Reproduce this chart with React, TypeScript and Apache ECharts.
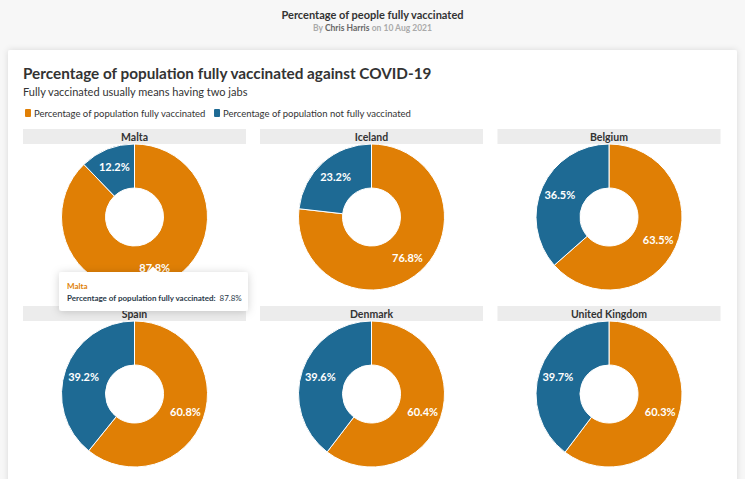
import React, { useEffect, useRef } from "react";
import * as echarts from "echarts";

const countries = ["Malta", "Iceland", "Belgium", "Spain", "Denmark", "United Kingdom"];
const vaccinated = [87.8, 76.8, 63.5, 60.8, 60.4, 60.3];
const notVaccinated = [12.2, 23.2, 36.5, 39.2, 39.6, 39.7];
const seriesNames = [
  "Percentage of population fully vaccinated",
  "Percentage of population not fully vaccinated",
];

const ORANGE = "#e07f05";
const BLUE = "#1e6a94";
const FONT = "Lato, 'Noto Sans', sans-serif";

const colCenters = [134.5, 371.5, 609];
const rowBarTop = [129, 306];
const BAR_W = 223;
const BAR_H = 15;
const R_OUT = 73;
const R_IN = 29;

export default function App() {
  const ref = useRef<HTMLDivElement>(null);
  useEffect(() => {
    const chart = echarts.init(ref.current!, undefined, { renderer: "svg" });
    const graphics: any[] = [];
    // card
    graphics.push({
      type: "rect",
      shape: { x: 8, y: 50, width: 729, height: 460, r: 2 },
      style: { fill: "#fff", shadowBlur: 6, shadowColor: "rgba(0,0,0,0.12)" },
      z: 0,
    });
    const series: any[] = [];
    countries.forEach((c, i) => {
      const col = i % 3;
      const row = Math.floor(i / 3);
      const cx = colCenters[col];
      const top = rowBarTop[row];
      graphics.push({
        type: "rect",
        shape: { x: cx - BAR_W / 2, y: top, width: BAR_W, height: BAR_H },
        style: { fill: "#ececec" },
        z: 1,
      });
      graphics.push({
        type: "text",
        x: cx,
        y: top + BAR_H / 2 + 0.5,
        style: {
          text: c,
          fill: "#333",
          font: `bold 10.5px ${FONT}`,
          textAlign: "center",
          textVerticalAlign: "middle",
        },
        z: 2,
      });
      series.push({
        type: "pie",
        name: c,
        center: [cx, top + BAR_H + R_OUT],
        radius: [R_IN, R_OUT],
        startAngle: 90,
        clockwise: true,
        silent: true,
        itemStyle: { borderColor: "#fff", borderWidth: 1 },
        label: {
          show: true,
          position: "inside",
          formatter: "{c}%",
          color: "#fff",
          fontSize: 11,
          fontWeight: "bold",
          fontFamily: FONT,
        },
        labelLine: { show: false },
        emphasis: { disabled: true },
        data: [
          { name: seriesNames[0], value: vaccinated[i], itemStyle: { color: ORANGE } },
          { name: seriesNames[1], value: notVaccinated[i], itemStyle: { color: BLUE } },
        ],
        z: 3,
      });
    });
    // tooltip (static)
    graphics.push({
      type: "rect",
      shape: { x: 59, y: 272, width: 189, height: 39, r: 3 },
      style: { fill: "#fff", shadowBlur: 8, shadowColor: "rgba(0,0,0,0.18)", shadowOffsetY: 1 },
      z: 50,
    });
    graphics.push({
      type: "polygon",
      shape: { points: [[147, 272.5], [153, 266.5], [159, 272.5]] },
      style: { fill: "#fff" },
      z: 51,
    });
    graphics.push({
      type: "text",
      x: 67,
      y: 286,
      style: {
        text: countries[0],
        fill: ORANGE,
        font: `bold 8px ${FONT}`,
        textVerticalAlign: "middle",
      },
      z: 52,
    });
    graphics.push({
      type: "text",
      x: 67,
      y: 298,
      style: {
        text: `{b|${seriesNames[0]}:} {v|${vaccinated[0]}%}`,
        textVerticalAlign: "middle",
        rich: {
          b: { fill: "#2b3a4a", font: `bold 8px ${FONT}` },
          v: { fill: "#2b3a4a", font: `8px ${FONT}` },
        },
      } as any,
      z: 52,
    });

    chart.setOption({
      animation: false,
      backgroundColor: "#f7f7f7",
      title: [
        {
          text: "Percentage of people fully vaccinated",
          left: "center",
          top: 9,
          padding: 0,
          textStyle: { fontSize: 11, fontWeight: "bold", color: "#333", fontFamily: FONT },
        },
        {
          text: "{g|By }{d|Chris Harris}{g| on 10 Aug 2021}",
          left: "center",
          top: 23,
          padding: 0,
          textStyle: {
            fontFamily: FONT,
            rich: {
              g: { fontSize: 8.5, color: "#aaa", fontFamily: FONT },
              d: { fontSize: 8.5, color: "#666", fontFamily: FONT },
            },
          },
        },
        {
          text: "Percentage of population fully vaccinated against COVID-19",
          left: 23,
          top: 65,
          padding: 0,
          textStyle: { fontSize: 15.3, fontWeight: "bold", color: "#333", fontFamily: FONT },
        },
        {
          text: "Fully vaccinated usually means having two jabs",
          left: 23,
          top: 86,
          padding: 0,
          textStyle: { fontSize: 11, fontWeight: "normal", color: "#333", fontFamily: FONT },
        },
      ],
      legend: {
        left: 23,
        top: 107,
        padding: 0,
        icon: "roundRect",
        itemWidth: 8,
        itemHeight: 10,
        itemGap: 6,
        selectedMode: false,
        data: seriesNames,
        textStyle: { fontSize: 9.5, color: "#333", fontFamily: FONT, padding: [0, 0, 0, -3] },
      },
      graphic: graphics,
      series,
    });
    return () => chart.dispose();
  }, []);
  return <div ref={ref} style={{ position: "fixed", left: 0, top: 0, width: 745, height: 479 }} />;
}
